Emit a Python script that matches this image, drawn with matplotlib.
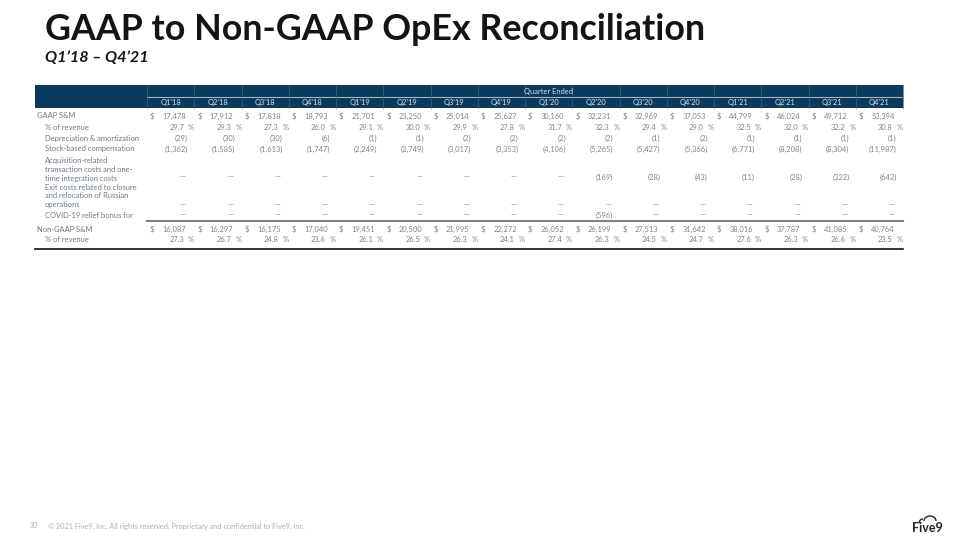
import matplotlib.pyplot as plt
from matplotlib.patches import Rectangle, Arc

quarters = ["Q1'18", "Q2'18", "Q3'18", "Q4'18", "Q1'19", "Q2'19", "Q3'19", "Q4'19",
            "Q1'20", "Q2'20", "Q3'20", "Q4'20", "Q1'21", "Q2'21", "Q3'21", "Q4'21"]
gaap_sm = [17478, 17912, 17818, 18793, 21701, 23250, 25014, 25627,
           30160, 32231, 32969, 37053, 44799, 46024, 49712, 53394]
gaap_pct = [29.7, 29.3, 27.3, 26.0, 29.1, 30.0, 29.9, 27.8,
            31.7, 32.3, 29.4, 29.0, 32.5, 32.0, 32.2, 30.8]
dep_amort = [-29, -30, -30, -6, -1, -1, -2, -2, -2, -2, -1, -2, -1, -1, -1, -1]
stock_comp = [-1362, -1585, -1613, -1747, -2249, -2749, -3017, -3353,
              -4106, -5265, -5427, -5366, -6771, -8208, -8304, -11987]
acq_costs = [0, 0, 0, 0, 0, 0, 0, 0, 0, -169, -28, -43, -11, -28, -322, -642]
exit_costs = [0] * 16
covid_bonus = [0, 0, 0, 0, 0, 0, 0, 0, 0, -596, 0, 0, 0, 0, 0, 0]
nongaap_sm = [16087, 16297, 16175, 17040, 19451, 20500, 21995, 22272,
              26052, 26199, 27513, 31642, 38016, 37787, 41085, 40764]
nongaap_pct = [27.3, 26.7, 24.8, 23.6, 26.1, 26.5, 26.3, 24.1,
               27.4, 26.3, 24.5, 24.7, 27.6, 26.3, 26.6, 23.5]

NAVY = "#0c3a5c"
GREY = "#7b8590"
FONT = ["Lato", "DejaVu Sans"]
FS = 5.4

fig = plt.figure(figsize=(9.6, 5.4), dpi=100)
ax = fig.add_axes([0, 0, 1, 1])
ax.set_xlim(0, 960)
ax.set_ylim(540, 0)
ax.axis("off")

# title, fitted to the reference width
title = ax.text(45, 40, "GAAP to Non-GAAP OpEx Reconciliation", fontsize=26,
                fontweight="bold", color="#141414", family=FONT, va="baseline")
fig.canvas.draw()
bb = title.get_window_extent()
title.set_fontsize(26 * 660 / bb.width)
ax.text(45, 62, "Q1\u201918 \u2013 Q4\u201921", fontsize=11.6, fontweight="bold",
        fontstyle="italic", color="#141414", family=FONT, va="baseline")

# header band
x0, x_end = 147, 903
cw = (x_end - x0) / len(quarters)
ax.add_patch(Rectangle((35, 85), x_end - 35, 23, color=NAVY, lw=0))
ax.plot([x0, x_end], [97, 97], color="#9fb4c6", lw=0.8)
for i in range(len(quarters) + 1):
    ax.plot([x0 + i * cw] * 2, [85, 108], color="#3d6483", lw=0.5)
ax.text(549, 91.5, "Quarter Ended", fontsize=FS, color="#d8e0e8", family=FONT,
        ha="center", va="center")
for i, q in enumerate(quarters):
    ax.text(x0 + (i + 0.5) * cw, 102.5, q, fontsize=FS, color="#d8e0e8",
            family=FONT, ha="center", va="center")


def txt(x, y, s, ha="left", color=GREY):
    ax.text(x, y, s, fontsize=FS, color=color, family=FONT, ha=ha, va="center")


def dollar_row(y, vals):
    for i, v in enumerate(vals):
        L = x0 + i * cw
        txt(L + 3, y, "$")
        txt(L + 39, y, f"{v:,}", ha="right")


def pct_row(y, vals):
    for i, v in enumerate(vals):
        L = x0 + i * cw
        txt(L + 37, y, f"{v:.1f}", ha="right")
        txt(L + 47, y, "%", ha="right")


def adj_row(y, vals):
    for i, v in enumerate(vals):
        L = x0 + i * cw
        if v == 0:
            txt(L + 36, y, "\u2014", ha="center")
        else:
            txt(L + 41, y, f"({-v:,})", ha="right")


# labels
labels = [
    (37, 116, "GAAP S&M"), (45, 127, "% of revenue"),
    (45, 138, "Depreciation & amortization"), (45, 149, "Stock-based compensation"),
    (45, 160, "Acquisition-related"), (45, 169, "transaction costs and one-"),
    (45, 178, "time integration costs"), (45, 187, "Exit costs related to closure"),
    (45, 196, "and relocation of Russian"), (45, 205, "operations"),
    (45, 215, "COVID-19 relief bonus for"),
    (37, 229, "Non-GAAP S&M"), (45, 239, "% of revenue"),
]
for x, y, s in labels:
    txt(x, y, s, color="#6b7785")

dollar_row(116, gaap_sm)
pct_row(127, gaap_pct)
adj_row(138, dep_amort)
adj_row(149, stock_comp)
adj_row(177, acq_costs)
adj_row(205, exit_costs)
adj_row(215, covid_bonus)
dollar_row(229, nongaap_sm)
pct_row(239, nongaap_pct)

ax.plot([x0, x_end], [221, 221], color="#808080", lw=1.5)
ax.plot([35, x_end], [248.5, 248.5], color="#111111", lw=1.2)

# footer
ax.text(30, 526, "30", fontsize=5, color="#b0b0b0", family=FONT, va="center")
ax.text(48, 526, "\u00a9 2021 Five9, Inc. All rights reserved. Proprietary and confidential to Five9, Inc.",
        fontsize=5.3, color="#b0b0b0", family=FONT, va="center")
ax.text(927, 528, "Five9", fontsize=9, fontweight="bold", color="#222222",
        family=FONT, ha="center", va="center")
ax.add_patch(Arc((930, 521), 12, 10, theta1=180, theta2=360, color="#222222", lw=1))
ax.add_patch(Arc((923, 522), 7, 6, theta1=160, theta2=270, color="#222222", lw=1))

fig.savefig("out.png", dpi=100)
